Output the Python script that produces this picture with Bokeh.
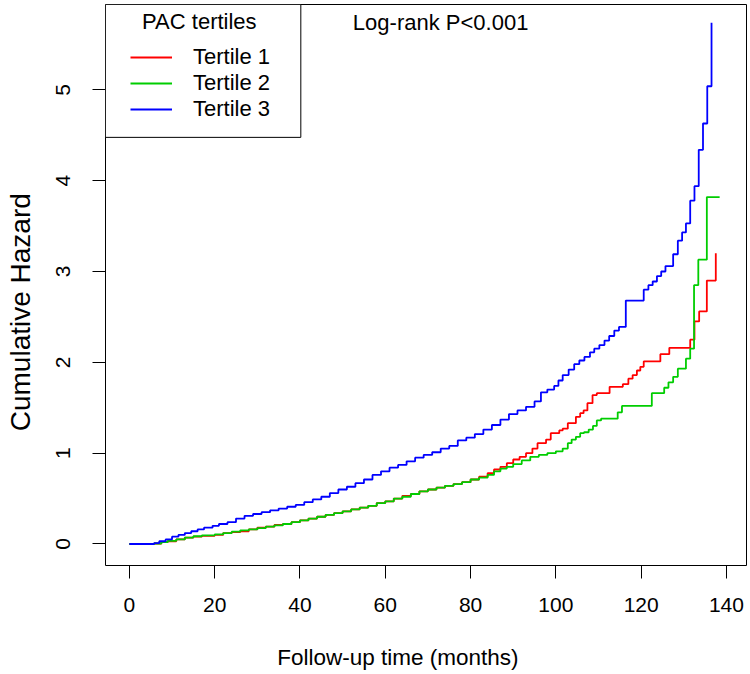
from bokeh.plotting import figure
from bokeh.models import Range1d, FixedTicker, Legend, LegendItem, BoxAnnotation, Label
from bokeh.embed import file_html
from bokeh.resources import INLINE

# ---- data ----
x_ticks = [0, 20, 40, 60, 80, 100, 120, 140]
y_ticks = [0, 1, 2, 3, 4, 5]

t3_time = [0, 5.8, 7.0, 8.5, 10.0, 11.5, 13.0, 14.5, 16.0, 17.5, 19.5, 21.0, 23.0, 25.0, 27.0, 29.0,
           31.0, 33.0, 35.0, 37.0, 39.0, 41.0, 43.0, 45.0, 47.0, 49.0, 51.0, 53.0, 55.0, 57.0, 59.0,
           61.0, 63.0, 65.0, 67.0, 69.0, 71.0, 73.0, 75.0, 77.0, 79.0, 81.0, 83.0, 85.0, 87.0, 89.0,
           91.0, 93.0, 95.0, 96.5, 98.0, 99.6, 100.6, 101.6, 103.0, 104.3, 105.5, 106.7, 108.0,
           109.0, 110.2, 111.4, 112.5, 113.7, 114.8, 116.4, 120.6, 121.7, 122.7, 123.7, 124.7,
           125.7, 127.5, 128.6, 129.6, 130.5, 131.5, 132.5, 133.5, 134.5, 135.5, 136.5]
t3_haz = [0, 0.01, 0.03, 0.05, 0.08, 0.10, 0.12, 0.14, 0.16, 0.18, 0.20, 0.22, 0.24, 0.28, 0.31, 0.33,
          0.35, 0.37, 0.39, 0.41, 0.43, 0.46, 0.49, 0.52, 0.56, 0.60, 0.63, 0.67, 0.71, 0.76, 0.80,
          0.84, 0.87, 0.91, 0.95, 0.98, 1.01, 1.05, 1.08, 1.14, 1.17, 1.21, 1.26, 1.31, 1.37, 1.43,
          1.47, 1.51, 1.57, 1.67, 1.70, 1.74, 1.80, 1.86, 1.92, 1.98, 2.02, 2.06, 2.11,
          2.15, 2.19, 2.24, 2.29, 2.35, 2.39, 2.68, 2.80, 2.85, 2.89, 2.95, 3.00,
          3.06, 3.19, 3.34, 3.43, 3.53, 3.78, 3.94, 4.34, 4.63, 5.04, 5.74]

t1_time = [0, 5.8, 7.5, 9.0, 11.0, 13.0, 15.0, 17.0, 20.0, 22.0, 24.0, 26.0, 28.0, 30.0, 32.0, 34.0,
           36.0, 38.0, 40.0, 42.0, 44.0, 46.0, 48.0, 50.0, 52.0, 54.0, 56.0, 58.0, 60.0, 62.0, 64.0,
           66.0, 68.0, 70.0, 72.0, 74.0, 76.0, 78.0, 80.0, 82.0, 84.0, 85.5, 87.0, 88.5, 90.0, 91.5,
           93.0, 94.5, 95.7, 97.7, 98.8, 100.8, 101.6, 102.8, 104.7, 105.7, 106.5, 107.4, 108.6,
           109.6, 112.6, 115.7, 117.0, 118.0, 119.0, 119.8, 120.6, 124.5, 126.6, 131.5, 132.5,
           133.6, 135.4, 137.5]
t1_haz = [0, 0.005, 0.02, 0.03, 0.05, 0.07, 0.08, 0.09, 0.10, 0.12, 0.13, 0.14, 0.16, 0.18, 0.19, 0.21,
          0.22, 0.24, 0.26, 0.28, 0.30, 0.32, 0.34, 0.36, 0.38, 0.40, 0.42, 0.45, 0.47, 0.50, 0.53,
          0.55, 0.58, 0.60, 0.62, 0.64, 0.66, 0.68, 0.71, 0.74, 0.78, 0.82, 0.85, 0.89, 0.93, 0.96,
          1.00, 1.05, 1.11, 1.15, 1.22, 1.25, 1.27, 1.33, 1.40, 1.44, 1.47, 1.55, 1.64,
          1.66, 1.73, 1.76, 1.82, 1.86, 1.91, 1.95, 2.01, 2.09, 2.16, 2.25, 2.45,
          2.56, 2.90, 3.20]

t2_time = [0, 5.8, 7.5, 9.0, 11.0, 13.0, 15.0, 17.0, 20.0, 22.0, 24.0, 26.0, 28.0, 30.0, 32.0, 34.0,
           36.0, 38.0, 40.0, 42.0, 44.0, 46.0, 48.0, 50.0, 52.0, 54.0, 56.0, 58.0, 60.0, 62.0, 64.0,
           66.0, 68.0, 70.0, 72.0, 74.0, 76.0, 78.0, 80.0, 82.0, 84.0, 85.5, 87.0, 88.5, 90.0, 92.0,
           94.0, 96.0, 98.0, 100.0, 101.6, 102.8, 103.7, 104.7, 105.7, 106.6, 107.7, 108.7, 109.6,
           110.6, 114.5, 115.5, 122.5, 125.4, 126.4, 127.5, 128.6, 130.5, 131.5, 132.4, 133.4,
           135.4, 138.4]
t2_haz = [0, 0.005, 0.02, 0.035, 0.05, 0.07, 0.085, 0.095, 0.105, 0.12, 0.135, 0.15, 0.16, 0.175, 0.19, 0.205,
          0.22, 0.24, 0.26, 0.28, 0.30, 0.32, 0.34, 0.36, 0.38, 0.40, 0.42, 0.45, 0.47, 0.50, 0.52,
          0.55, 0.58, 0.60, 0.62, 0.64, 0.66, 0.68, 0.71, 0.73, 0.76, 0.80, 0.83, 0.85, 0.88, 0.92,
          0.96, 0.98, 1.00, 1.02, 1.05, 1.11, 1.15, 1.18, 1.22, 1.23, 1.26, 1.30, 1.36,
          1.38, 1.45, 1.52, 1.66, 1.72, 1.78, 1.84, 1.93, 2.04, 2.15, 2.85, 3.13,
          3.82, 3.82]

series_names = ["Tertile 1", "Tertile 2", "Tertile 3"]
series_colors = ["#FF0000", "#00CD00", "#0000FF"]
x_title = "Follow-up time (months)"
y_title = "Cumulative Hazard"

FONT = "Liberation Sans"
NBSP = "\u00a0"

p = figure(frame_width=641, frame_height=561,
           min_border_left=105, min_border_right=4, min_border_top=4, min_border_bottom=109,
           x_range=Range1d(-5.6, 144.7), y_range=Range1d(-0.237, 5.94),
           output_backend="svg", toolbar_location=None)

p.outline_line_color = "black"
p.outline_line_width = 1
p.outline_line_alpha = 1
p.grid.visible = False
p.background_fill_color = "white"
p.border_fill_color = "white"

p.xaxis.ticker = FixedTicker(ticks=x_ticks)
p.yaxis.ticker = FixedTicker(ticks=y_ticks)
for ax in (p.xaxis[0], p.yaxis[0]):
    ax.axis_line_color = None
    ax.major_tick_line_color = "black"
    ax.major_tick_line_width = 1
    ax.major_tick_out = 13
    ax.major_tick_in = 0
    ax.minor_tick_line_color = None
    ax.major_label_text_font = FONT
    ax.major_label_text_font_size = "21px"
    ax.major_label_text_color = "black"
    ax.axis_label_text_font = FONT
    ax.axis_label_text_font_style = "normal"
    ax.axis_label_text_color = "black"

# the reference's axis titles sit a little off-centre; pad them with non-breaking spaces
p.xaxis.axis_label = x_title + NBSP * 9
p.xaxis.axis_label_text_font_size = "22.5px"
p.yaxis.axis_label = y_title + NBSP * 7
p.yaxis.axis_label_text_font_size = "28px"
p.xaxis.major_label_standoff = 19
p.xaxis.axis_label_standoff = 30
p.yaxis.major_label_orientation = "parallel"
p.yaxis.major_label_standoff = 22
p.yaxis.axis_label_standoff = 18

renderers = []
for tt, hh, col in zip([t1_time, t2_time, t3_time], [t1_haz, t2_haz, t3_haz], series_colors):
    r = p.step(tt, hh, mode="after", line_color=col, line_width=1.8)
    renderers.append(r)

box = BoxAnnotation(right=40.2, bottom=4.477, fill_color="white", fill_alpha=1,
                    line_color="black", line_width=1, line_alpha=1)
p.add_layout(box)

p.add_layout(Label(x=16.4, y=5.755, text="PAC tertiles", text_align="center",
                   text_baseline="alphabetic", text_font=FONT, text_font_size="22px",
                   text_color="black"))

legend = Legend(items=[LegendItem(label=n, renderers=[r]) for n, r in zip(series_names, renderers)],
                location=(25, 443), border_line_color=None, background_fill_alpha=0,
                glyph_width=42, glyph_height=26, label_height=26, label_standoff=21, spacing=0,
                label_text_font=FONT, label_text_font_size="22px", label_text_color="black",
                margin=0, padding=0)
p.add_layout(legend)

p.add_layout(Label(x=52.4, y=5.737, text="Log-rank P<0.001", text_align="left",
                   text_baseline="alphabetic", text_font=FONT, text_font_size="22px",
                   text_color="black"))

open("out.html", "w").write(file_html(p, INLINE))
